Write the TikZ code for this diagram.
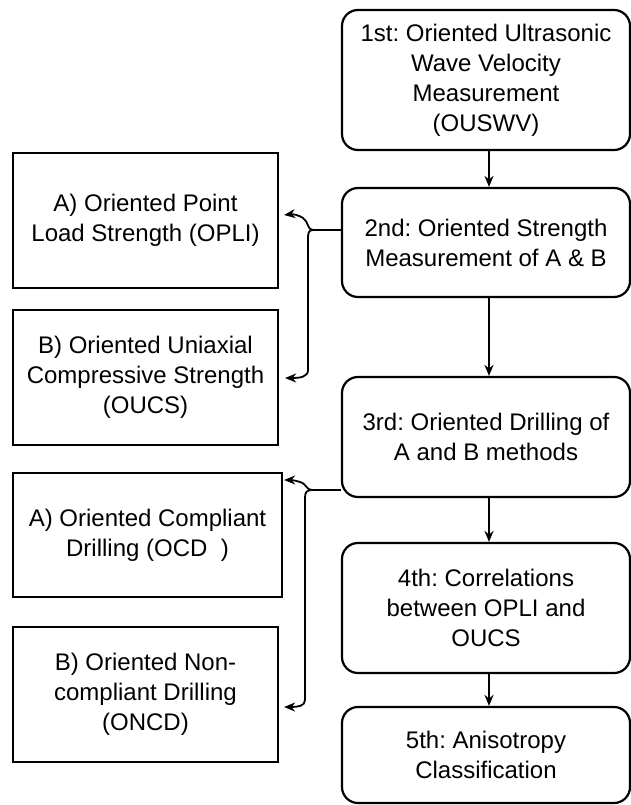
\documentclass[tikz,border=0pt]{standalone}
\usepackage{fontspec}
\setmainfont{Liberation Sans}
\usetikzlibrary{arrows.meta}
\frenchspacing
\begin{document}
\begin{tikzpicture}[x=1pt,y=-1pt,
  rbox/.style={draw, line width=2.2pt, rounded corners=16pt, align=center,
    inner sep=0pt, minimum width=288pt, font=\fontsize{24}{30}\selectfont},
  sbox/.style={draw, line width=2.2pt, align=center, inner sep=0pt,
    font=\fontsize{24}{30}\selectfont},
  conn/.style={line width=1.8pt, -{Stealth[length=11pt,width=9pt]}},
  plain/.style={line width=1.8pt}]
\useasboundingbox (0,0) rectangle (631,805);
\fill[white] (0,0) rectangle (631,805);
% right column
\node[rbox, minimum height=140pt] (n1) at (486,80) {1st: Oriented Ultrasonic\\Wave Velocity\\Measurement\\(OUSWV)};
\node[rbox, minimum height=109pt] (n2) at (486,242.5) {2nd: Oriented Strength\\Measurement of A \& B};
\node[rbox, minimum height=120pt] (n3) at (486,437) {3rd: Oriented Drilling of\\A and B methods};
\node[rbox, minimum height=130pt] (n4) at (486,608) {4th: Correlations\\between OPLI and\\OUCS};
\node[rbox, minimum height=96pt] (n5) at (486,755) {5th: Anisotropy\\Classification};
% left column
\node[sbox, minimum width=265pt, minimum height=135pt] (a1) at (145.5,220.5) {A) Oriented Point\\Load Strength (OPLI)};
\node[sbox, minimum width=265pt, minimum height=135pt] (b1) at (145.5,377.5) {B) Oriented Uniaxial\\Compressive Strength\\(OUCS)};
\node[sbox, minimum width=269pt, minimum height=124pt] (a2) at (147.5,535) {A) Oriented Compliant\\Drilling (OCD\ \ )};
\node[sbox, minimum width=265pt, minimum height=135pt] (b2) at (145.5,694.5) {B) Oriented Non-\\compliant Drilling\\(ONCD)};
% vertical arrows
\draw[conn] ([xshift=3pt]n1.south) -- ([xshift=3pt]n2.north);
\draw[conn] ([xshift=3pt]n2.south) -- ([xshift=3pt]n3.north);
\draw[conn] ([xshift=3pt]n3.south) -- ([xshift=3pt]n4.north);
\draw[conn] ([xshift=3pt]n4.south) -- ([xshift=3pt]n5.north);
% brace 1
\coordinate (j1) at (313,230);
\draw[plain] ([yshift=12.5pt]n2.west) -- (j1);
\draw[conn] (j1) .. controls (307,230) and (309,222) .. (303,218)
  .. controls (299,215) and (292,214) .. ([xshift=5pt,yshift=5.5pt]a1.east);
\draw[conn] (j1) .. controls (308,230) and (308,234) .. (308,240) -- (308,370)
  .. controls (308,377) and (300,378) .. ([xshift=6pt,yshift=-0.5pt]b1.east);
% brace 2
\coordinate (j2) at (312,490);
\draw[plain] ([yshift=-53pt]n3.west) -- (j2);
\draw[conn] (j2) .. controls (306,490) and (307,484) .. (300,482)
  .. controls (294,480) and (290,480) .. ([xshift=1pt,yshift=55pt]a2.east);
\draw[conn] (j2) .. controls (306,490) and (305,493) .. (305,498) -- (305,700)
  .. controls (305,706) and (298,707) .. ([xshift=5pt,yshift=-12.5pt]b2.east);
\end{tikzpicture}
\end{document}
